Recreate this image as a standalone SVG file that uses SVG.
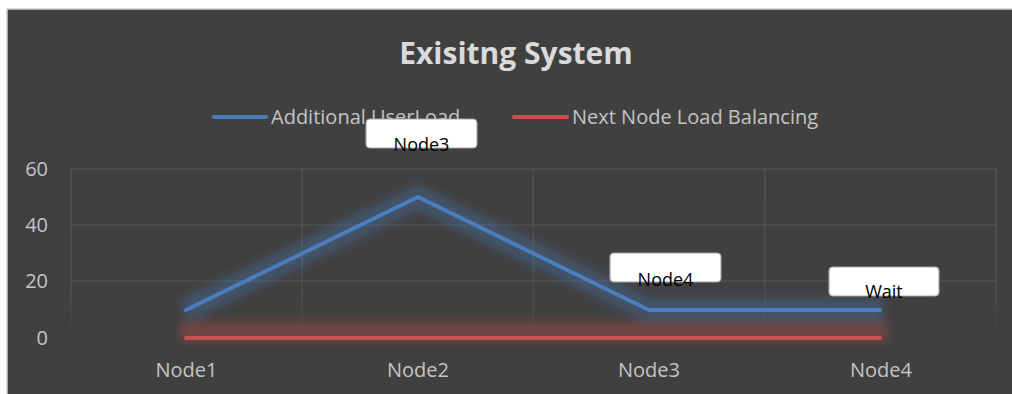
<svg xmlns="http://www.w3.org/2000/svg" width="1012" height="394" viewBox="0 0 1012 394">
  <defs>
    <style>
      .axis { font-family: "Open Sans", "Liberation Sans", sans-serif; font-size: 20px; fill: #c4c4c4; }
      .title { font-family: "Open Sans", "Liberation Sans", sans-serif; font-size: 30px; font-weight: bold; fill: #dadada; }
      .grid { stroke: #575757; stroke-width: 1.2; fill: none; }
      .box { fill: #ffffff; stroke: #a6a6a6; stroke-width: 1.2; }
      .lbl { font-family: "Open Sans", "Liberation Sans", sans-serif; font-size: 18px; fill: #000000; text-anchor: middle; }
      .blue { stroke: #4a7ebf; stroke-width: 4; fill: none; stroke-linecap: round; stroke-linejoin: round; }
      .red { stroke: #c9504f; stroke-width: 4; fill: none; stroke-linecap: round; }
      .glowline { fill: none; stroke-linejoin: round; stroke-linecap: butt; }
    </style>
    <linearGradient id="vfade" x1="0" y1="169" x2="0" y2="338" gradientUnits="userSpaceOnUse">
      <stop offset="0" stop-color="#575757" stop-opacity="1"/>
      <stop offset="0.7" stop-color="#575757" stop-opacity="0.8"/>
      <stop offset="1" stop-color="#575757" stop-opacity="0"/>
    </linearGradient>
    <filter id="glow" filterUnits="userSpaceOnUse" x="150" y="160" width="770" height="210">
      <feGaussianBlur stdDeviation="5"/>
    </filter>
  </defs>

  <rect x="0" y="0" width="1012" height="394" fill="#ffffff"/>
  <rect id="chart-bg" x="7" y="9" width="1010" height="390" fill="#404040" stroke="#cfcfcf" stroke-width="1.5"/>

  <g id="title">
    <text class="title" x="516" y="64" text-anchor="middle">Exisitng System</text>
  </g>

  <g id="legend">
    <line class="blue" x1="214" y1="117" x2="266" y2="117"/>
    <text class="axis" x="271" y="124">Additional UserLoad</text>
    <line class="red" x1="514" y1="117" x2="567" y2="117"/>
    <text class="axis" x="572" y="124">Next Node Load Balancing</text>
  </g>

  <g id="gridlines">
    <line class="grid" x1="71" y1="169" x2="996" y2="169"/>
    <line class="grid" x1="71" y1="225" x2="996" y2="225"/>
    <line class="grid" x1="71" y1="281" x2="996" y2="281"/>
    <rect x="70.4" y="169" width="1.2" height="169" fill="url(#vfade)"/>
    <rect x="301.4" y="169" width="1.2" height="169" fill="url(#vfade)"/>
    <rect x="532.7" y="169" width="1.2" height="169" fill="url(#vfade)"/>
    <rect x="764.4" y="169" width="1.2" height="169" fill="url(#vfade)"/>
    <rect x="995.4" y="169" width="1.2" height="169" fill="url(#vfade)"/>
  </g>

  <g id="y-axis">
    <text class="axis" x="48" y="176" text-anchor="end">60</text>
    <text class="axis" x="48" y="232" text-anchor="end">40</text>
    <text class="axis" x="48" y="288" text-anchor="end">20</text>
    <text class="axis" x="48" y="345" text-anchor="end">0</text>
  </g>

  <g id="x-axis">
    <text class="axis" x="186.5" y="377" text-anchor="middle">Node1</text>
    <text class="axis" x="418" y="377" text-anchor="middle">Node2</text>
    <text class="axis" x="649" y="377" text-anchor="middle">Node3</text>
    <text class="axis" x="881" y="377" text-anchor="middle">Node4</text>
  </g>

  <g id="connectors">
    <g id="series-next-node">
      <polyline class="glowline" points="180,331 888,331" stroke="#c9504f" stroke-width="20" opacity="0.35" filter="url(#glow)"/>
      <polyline class="red" points="186,338 880,338"/>
    </g>
    <g id="series-additional-userload">
      <polyline class="glowline" points="184,311 418,197 649,310 884,310" stroke="#4a7ebf" stroke-width="24" opacity="0.32" filter="url(#glow)"/>
      <polyline class="blue" points="186,310 418,197 649,310 880,310"/>
    </g>
  </g>

  <g id="label-node3">
    <rect class="box" x="366" y="119" width="111" height="29" rx="4"/>
    <text class="lbl" x="421.5" y="150.5">Node3</text>
  </g>
  <g id="label-node4">
    <rect class="box" x="610" y="253" width="111" height="29" rx="4"/>
    <text class="lbl" x="665.5" y="285.5">Node4</text>
  </g>
  <g id="label-wait">
    <rect class="box" x="829" y="267" width="110" height="29" rx="4"/>
    <text class="lbl" x="884" y="298">Wait</text>
  </g>
</svg>
